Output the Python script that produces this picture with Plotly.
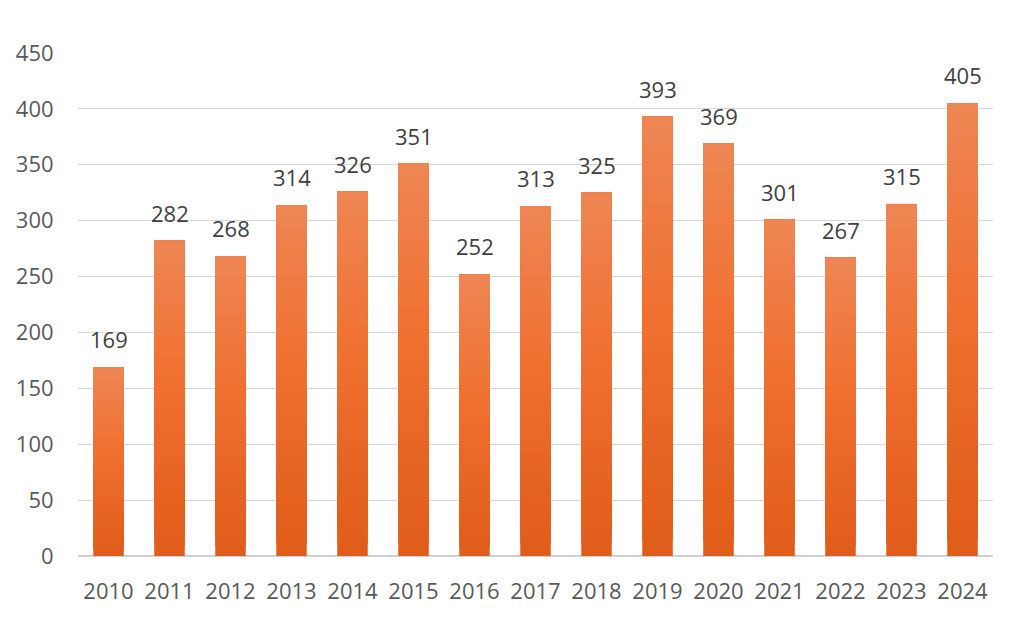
import plotly.graph_objects as go

years = ["2010", "2011", "2012", "2013", "2014", "2015", "2016", "2017",
         "2018", "2019", "2020", "2021", "2022", "2023", "2024"]
values = [169, 282, 268, 314, 326, 351, 252, 313, 325, 393, 369, 301, 267, 315, 405]
y_ticks = [0, 50, 100, 150, 200, 250, 300, 350, 400, 450]

# vertical gradient stops (fraction of bar height from bottom, colour)
grad_stops = [(0.0, (224, 92, 26)), (0.55, (240, 112, 48)), (1.0, (238, 134, 84))]
n_seg = 30


def grad_color(f):
    for (f0, c0), (f1, c1) in zip(grad_stops[:-1], grad_stops[1:]):
        if f0 <= f <= f1:
            t = (f - f0) / (f1 - f0)
            c = [round(a + (b - a) * t) for a, b in zip(c0, c1)]
            return "rgb({},{},{})".format(*c)
    return "rgb({},{},{})".format(*grad_stops[-1][1])


fig = go.Figure()
for k in range(n_seg):
    frac = k / n_seg
    fig.add_trace(go.Bar(
        x=years,
        base=[v * frac for v in values],
        y=[v * (1 - frac) for v in values],
        marker=dict(color=grad_color((k + 0.5) / n_seg), line=dict(width=0)),
        width=0.5,
        hoverinfo="skip" if k else None,
        customdata=values,
        hovertemplate="%{x}: %{customdata}<extra></extra>",
    ))

for i, v in enumerate(values):
    fig.add_annotation(x=i, y=v, text=str(v), showarrow=False,
                       yanchor="bottom", yshift=11,
                       font=dict(size=22, color="#404040", family="Open Sans"))

fig.update_layout(
    width=1017, height=621,
    margin=dict(l=70, r=32, t=45, b=73),
    paper_bgcolor="white", plot_bgcolor="white",
    font=dict(family="Open Sans", color="#595959", size=22),
    showlegend=False,
    barmode="overlay",
)
fig.update_yaxes(range=[0, 450], tickvals=y_ticks, showgrid=True,
                 gridcolor="#D9D9D9", gridwidth=1.2, zeroline=True,
                 zerolinecolor="#D0D0D0", zerolinewidth=1.5,
                 ticks="outside", ticklen=19, tickcolor="rgba(0,0,0,0)",
                 showline=False, automargin=False)
fig.update_xaxes(type="category", showgrid=False, showline=False, ticks="",
                 ticklabelstandoff=20, range=[-0.5, len(years) - 0.5],
                 automargin=False)

fig.write_html("out.html")
